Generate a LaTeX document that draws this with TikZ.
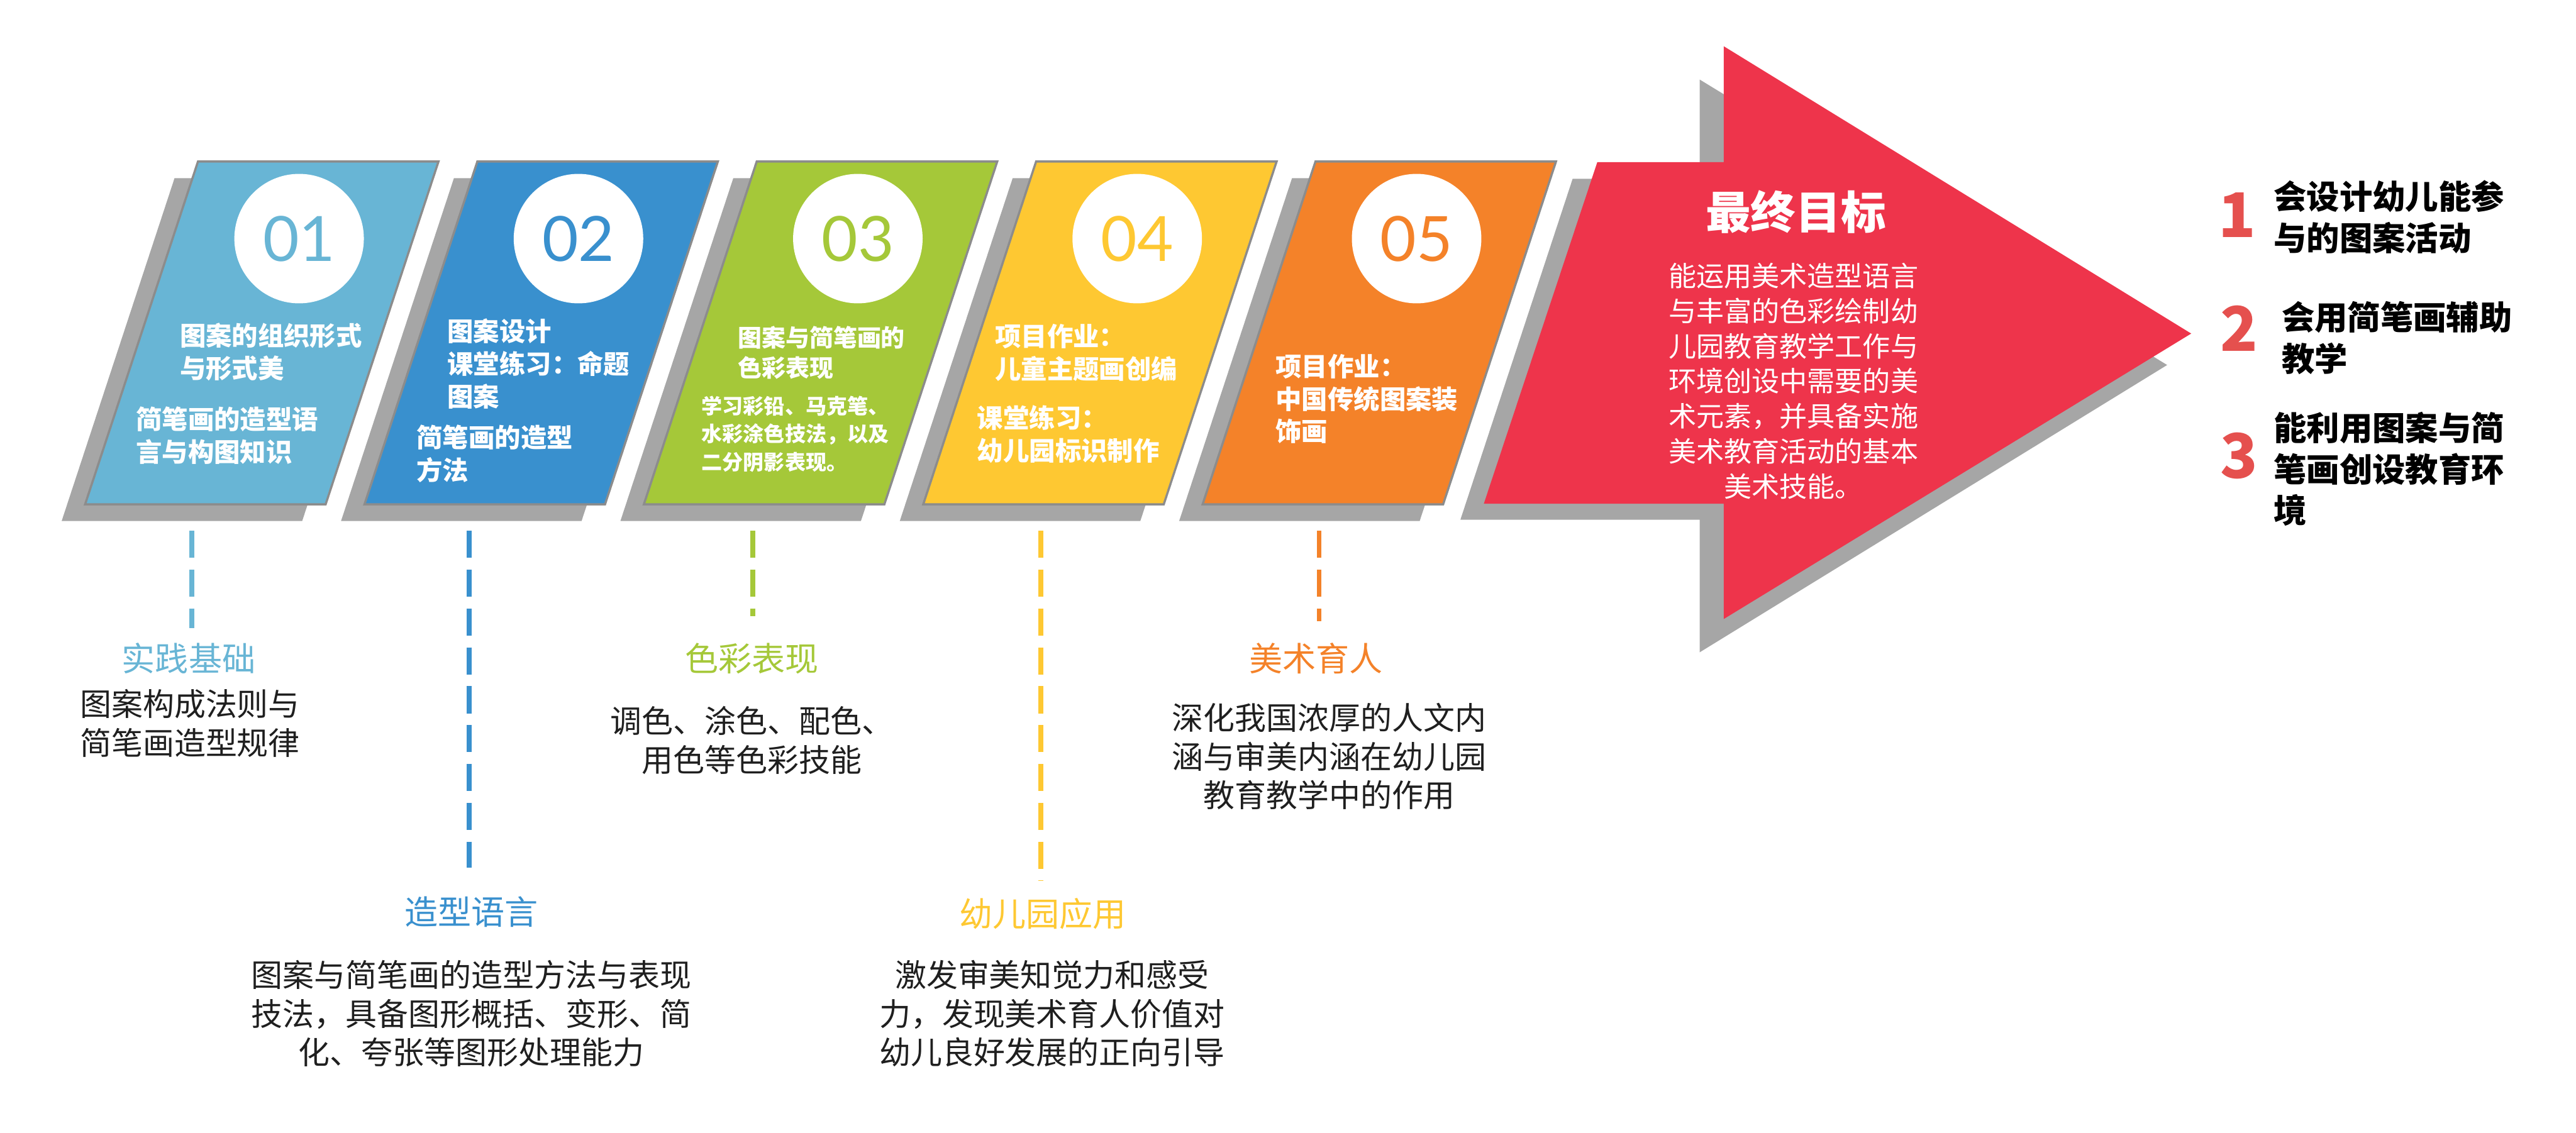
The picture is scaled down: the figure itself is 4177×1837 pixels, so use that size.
\documentclass[tikz,border=0pt]{standalone}
\usepackage{fontspec}
\setmainfont{Noto Sans CJK SC}
\newfontfamily\numfont{Lato}

\definecolor{cardA}{RGB}{104,181,213}
\definecolor{cardB}{RGB}{57,144,206}
\definecolor{cardC}{RGB}{165,200,57}
\definecolor{cardD}{RGB}{254,200,50}
\definecolor{cardE}{RGB}{244,130,41}
\definecolor{goalred}{RGB}{238,52,75}
\definecolor{numred}{RGB}{229,80,78}
\definecolor{shadowgray}{RGB}{166,166,166}
\definecolor{edgegray}{RGB}{140,140,140}

\tikzset{
  cardtext/.style={text=white, font=\bfseries\fontsize{12}{15}\selectfont, align=left, anchor=west, inner sep=0pt},
  tagtitle/.style={font=\fontsize{15.4}{18}\selectfont, inner sep=0pt},
  tagbody/.style={text=black!88, font=\fontsize{14.5}{17.9}\selectfont, align=center, inner sep=0pt},
  goalnum/.style={text=numred, font=\bfseries\fontsize{28.4}{30}\selectfont, inner sep=0pt},
  goaltext/.style={text=black, font=\bfseries\fontsize{15.2}{19}\selectfont, align=left, anchor=west, inner sep=0pt},
  guide/.style={line width=0.8mm, dash pattern=on 4.4mm off 1.9mm}
}

\begin{document}
\begin{tikzpicture}[x=0.1mm, y=-0.1mm]
\useasboundingbox (0,0) rectangle (4177,1837);

% 卡片
\foreach \i/\x/\c in {1/321/cardA,2/774/cardB,3/1227/cardC,4/1680/cardD,5/2133/cardE}{
  \fill[shadowgray] (\x-38,289) -- (\x+352,289) -- (\x+169,845) -- (\x-221,845) -- cycle;
  \fill[\c, draw=edgegray, line width=1pt] (\x,262) -- (\x+390,262) -- (\x+207,818) -- (\x-183,818) -- cycle;
  \node[circle, fill=white, minimum size=21mm, inner sep=0pt, text=\c, font=\numfont\fontsize{28.8}{30}\selectfont] (n\i) at (\x+164,387) {0\i};
}

% 01
\node[cardtext] (t1a) at (291,571) {图案的组织形式\\与形式美};
\node[cardtext] (t1b) at (220,706) {简笔画的造型语\\言与构图知识};
% 02
\node[cardtext] (t2a) at (725,590) {图案设计\\课堂练习：命题\\图案};
\node[cardtext] (t2b) at (675,736) {简笔画的造型\\方法};
% 03
\node[cardtext, font=\bfseries\fontsize{11}{14}\selectfont] (t3a) at (1196,572) {图案与简笔画的\\色彩表现};
\node[cardtext, font=\bfseries\fontsize{9.6}{13}\selectfont] (t3b) at (1137,704) {学习彩铅、马克笔、\\水彩涂色技法，以及\\二分阴影表现。};
% 04
\node[cardtext] (t4a) at (1613,572) {项目作业：\\儿童主题画创编};
\node[cardtext] (t4b) at (1584,704) {课堂练习：\\幼儿园标识制作};
% 05
\node[cardtext] (t5) at (2068,647) {项目作业：\\中国传统图案装\\饰画};

% 最终目标
\fill[shadowgray] (2550,290) -- (2756,290) -- (2756,129) -- (3514,592) -- (2756,1058) -- (2756,843) -- (2368,843) -- cycle;
\fill[goalred] (2590,263) -- (2795,263) -- (2795,75) -- (3553,541) -- (2795,1004) -- (2795,817) -- (2406,817) -- cycle;
\node[text=white, font=\bfseries\fontsize{20.8}{24}\selectfont, inner sep=0pt] (goal) at (2912,344) {最终目标};
\node[text=white, font=\fontsize{12.8}{16.2}\selectfont, align=center, inner sep=0pt] (goalbody) at (2908,618)
  {能运用美术造型语言\\与丰富的色彩绘制幼\\儿园教育教学工作与\\环境创设中需要的美\\术元素，并具备实施\\美术教育活动的基本\\美术技能。};

% 目标列表
\node[goalnum] (g1) at (3628,349) {1};
\node[goaltext] (g1t) at (3686,352) {会设计幼儿能参\\与的图案活动};
\node[goalnum] (g2) at (3631,533) {2};
\node[goaltext] (g2t) at (3699,548) {会用简笔画辅助\\教学};
\node[goalnum] (g3) at (3631,739) {3};
\node[goaltext] (g3t) at (3686,761) {能利用图案与简\\笔画创设教育环\\境};

% 虚线
\foreach \i/\x/\y/\c in {1/311/1019/cardA,2/761/1407/cardB,3/1221/999/cardC,4/1688/1429/cardD,5/2139/1008/cardE}{
  \coordinate (top\i) at (\x,861);
  \coordinate (end\i) at (\x,\y);
  \draw[guide, \c] (top\i) -- (end\i);
}

% 说明
\node[tagtitle, text=cardA] (l1) at (306,1068) {实践基础};
\node[tagbody] (b1) at (308,1173) {图案构成法则与\\简笔画造型规律};
\node[tagtitle, text=cardB] (l2) at (764,1479) {造型语言};
\node[tagbody] (b2) at (764,1644) {图案与简笔画的造型方法与表现\\技法，具备图形概括、变形、简\\化、夸张等图形处理能力};
\node[tagtitle, text=cardC] (l3) at (1219,1068) {色彩表现};
\node[tagbody] (b3) at (1219,1201) {调色、涂色、配色、\\用色等色彩技能};
\node[tagtitle, text=cardD] (l4) at (1691,1482) {幼儿园应用};
\node[tagbody] (b4) at (1706,1644) {激发审美知觉力和感受\\力，发现美术育人价值对\\幼儿良好发展的正向引导};
\node[tagtitle, text=cardE] (l5) at (2134,1068) {美术育人};
\node[tagbody] (b5) at (2155,1227) {深化我国浓厚的人文内\\涵与审美内涵在幼儿园\\教育教学中的作用};

\end{tikzpicture}
\end{document}
